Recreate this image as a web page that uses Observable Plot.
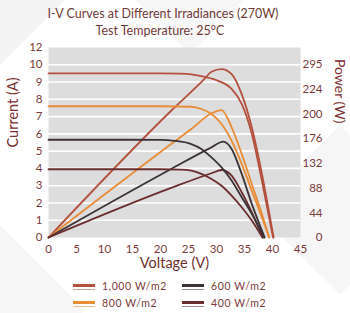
<!DOCTYPE html>
<html>
<head>
<meta charset="utf-8">
<script src="https://cdn.jsdelivr.net/npm/d3@7"></script>
<script src="https://cdn.jsdelivr.net/npm/@observablehq/plot@0.6"></script>
<style>
  html, body { margin: 0; padding: 0; background: #fff; }
  body { width: 350px; height: 313px; overflow: hidden; font-family: Lato, "Open Sans", sans-serif; }
  #wrap { position: relative; width: 350px; height: 313px; overflow: hidden; }
  .wm { position: absolute; width: 120px; height: 120px; background: #f4f4f4; transform: rotate(45deg); }
  #title { position: absolute; left: 0; width: 326px; top: 6px; text-align: center; font-size: 12.5px; color: #6f3a3a; }
  #subtitle { position: absolute; left: 0; width: 320px; top: 23px; text-align: center; font-size: 12.5px; color: #6f3a3a; }
  #chart { position: absolute; left: 0; top: 40px; }
  .leg { position: absolute; font-size: 10.5px; color: #7a3b3b; letter-spacing: 0.6px; }
  .sw { position: absolute; width: 22px; }
  .sw .a { height: 3px; }
  .sw .b { height: 1.5px; margin-top: 1.5px; opacity: 0.55; }
</style>
</head>
<body>
<div id="wrap">
  <div class="wm" style="left:-70px; top:-70px;"></div>
  <div class="wm" style="left:130px; top:-90px; background:#f7f7f7;"></div>
  <div class="wm" style="left:280px; top:150px; background:#f6f6f6;"></div>
  <div class="wm" style="left:-60px; top:250px; background:#f7f7f7;"></div>
  <div id="title">I-V Curves at Different Irradiances (270W)</div>
  <div id="subtitle">Test Temperature: 25°C</div>
  <div id="chart"></div>
  <div id="legend"></div>
</div>
<script>
// ---- data ----
const series = ["1,000 W/m2", "800 W/m2", "600 W/m2", "400 W/m2"];
const colors = ["#b4503d", "#e88c36", "#3a3236", "#6b2c2e"];

// I-V curves: voltage (V) and current (A)
const iv1000V = [0, 10, 20, 23.5, 25.5, 27.9, 30.3, 32.7, 34.5, 36.3, 38.1, 40.1];
const iv1000A = [9.5, 9.5, 9.5, 9.49, 9.45, 9.3, 9.07, 8.6, 7.73, 6.0, 3.3, 0];
const iv800V  = [0, 10, 20, 25.5, 27.3, 29.1, 30.9, 32.7, 34.5, 36.3, 38.1, 39.4];
const iv800A  = [7.6, 7.6, 7.6, 7.57, 7.44, 7.15, 6.57, 5.6, 4.26, 2.7, 1.17, 0];
const iv600V  = [0, 10, 20, 22.5, 25.5, 27.3, 29.1, 30.9, 32.7, 34.5, 36.3, 38.5];
const iv600A  = [5.66, 5.66, 5.65, 5.6, 5.41, 5.13, 4.64, 4.06, 3.3, 2.33, 1.37, 0];
const iv400V  = [0, 10, 20, 23.7, 25.5, 27.3, 29.1, 30.9, 32.7, 34.5, 36.3, 38.2];
const iv400A  = [3.95, 3.95, 3.95, 3.93, 3.87, 3.68, 3.39, 3.0, 2.43, 1.75, 0.98, 0];

// P-V curves: voltage (V) and power (W)
const pv1000V = [0, 21.9, 27.9, 29.1, 30.9, 32.7, 34.5, 36.3, 38.1, 40.2];
const pv1000W = [0, 216.5, 271.4, 283.2, 287.6, 279.1, 244.9, 188.2, 109.2, 0];
const pv800V  = [0, 21.9, 25.5, 29.1, 30.9, 32.7, 34.5, 36.3, 38.1, 39.4];
const pv800W  = [0, 159.6, 185.3, 212.1, 217.7, 188.2, 142.8, 91.5, 40.4, 0];
const pv600V  = [0, 21.9, 29.1, 31.2, 32.7, 34.5, 36.3, 38.6];
const pv600W  = [0, 117.1, 154.0, 163.7, 151.3, 108.6, 57.5, 0];
const pv400V  = [0, 21.9, 29.1, 30.9, 32.7, 34.5, 36.3, 38.3];
const pv400W  = [0, 84.7, 109.7, 115.3, 105.6, 77.3, 43.1, 0];

// axis tick labels
const xTicks = [0, 5, 10, 15, 20, 25, 30, 35, 40, 45];
const leftTickLabels = ["0", "1", "2", "3", "4", "5", "6", "7", "8", "9", "10", "12"];
const rightTickLabels = ["0", "44", "88", "132", "176", "200", "224", "295"];
const wattsPerCurrentUnit = 29.5; // 295 W label sits on the 10 A gridline

// ---- build tables ----
const ivSets = [[iv1000V, iv1000A], [iv800V, iv800A], [iv600V, iv600A], [iv400V, iv400A]];
const pvSets = [[pv1000V, pv1000W], [pv800V, pv800W], [pv600V, pv600W], [pv400V, pv400W]];
const ivData = ivSets.flatMap(([vs, is], k) => vs.map((v, j) => ({s: series[k], v, y: is[j]})));
const pvData = pvSets.flatMap(([vs, ps], k) => vs.map((v, j) => ({s: series[k], v, y: ps[j] / wattsPerCurrentUnit})));
const leftTicks = leftTickLabels.map((_, i) => i);
const rightTicks = rightTickLabels.map((_, i) => i * 10 / (rightTickLabels.length - 1));
const txt = "#7a3b3b";

const chart = Plot.plot({
  width: 350,
  height: 240,
  marginLeft: 48,
  marginRight: 50,
  marginTop: 7,
  marginBottom: 43,
  style: {fontFamily: "Lato, 'Open Sans', sans-serif", background: "transparent", overflow: "visible"},
  x: {domain: [0, 45]},
  y: {domain: [0, 11]},
  color: {domain: series, range: colors},
  marks: [
    Plot.frame({fill: "#dddddd", stroke: null}),
    Plot.ruleY(d3.range(1, 11), {stroke: "#ffffff", strokeWidth: 1.6}),
    Plot.axisX({ticks: xTicks, tickSize: 0, tickPadding: 7, fontSize: 11.5, color: txt, label: null}),
    Plot.axisY({ticks: leftTicks, tickSize: 0, tickPadding: 6, fontSize: 11.5, color: txt, label: null,
      tickFormat: (d) => leftTickLabels[d]}),
    Plot.axisY({anchor: "right", ticks: rightTicks, tickSize: 0, tickPadding: 22, textAnchor: "end", fontSize: 11.5, color: txt, label: null,
      tickFormat: (d, i) => rightTickLabels[i]}),
    Plot.line(pvData, {x: "v", y: "y", z: "s", stroke: "s", strokeWidth: 1.8, curve: "monotone-x"}),
    Plot.line(ivData, {x: "v", y: "y", z: "s", stroke: "s", strokeWidth: 1.8, curve: "monotone-x"}),
    Plot.text(["Current (A)"], {frameAnchor: "left", dx: -35, dy: 5, rotate: -90, fontSize: 14.5, fill: "#7a2e2e"}),
    Plot.text(["Power (W)"], {frameAnchor: "right", dx: 39, dy: -19, rotate: 90, fontSize: 14, fill: "#7a2e2e"}),
    Plot.text(["Voltage (V)"], {frameAnchor: "bottom", dy: 30, fontSize: 14.5, fill: "#6f2e2e"})
  ]
});
document.getElementById("chart").appendChild(chart);

// legend
const legPos = [[73, 287], [73, 304], [182, 287], [182, 304]];
const legend = document.getElementById("legend");
series.forEach((s, i) => {
  const [x, y] = legPos[i];
  const sw = document.createElement("div");
  sw.className = "sw";
  sw.style.left = x + "px";
  sw.style.top = (y - 3) + "px";
  sw.innerHTML = `<div class="a" style="background:${colors[i]}"></div><div class="b" style="background:${colors[i]}"></div>`;
  legend.appendChild(sw);
  const t = document.createElement("div");
  t.className = "leg";
  t.style.left = (x + 29) + "px";
  t.style.top = (y - 7) + "px";
  t.textContent = s;
  legend.appendChild(t);
});
</script>
</body>
</html>
